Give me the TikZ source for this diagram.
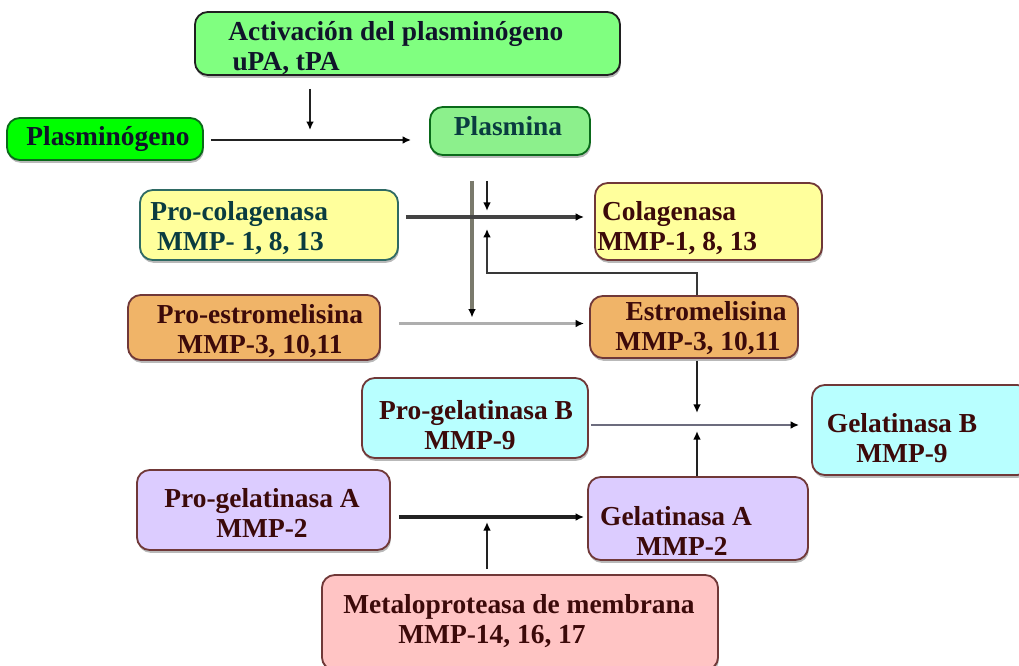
\documentclass[tikz,border=0pt]{standalone}
\usepackage{fontspec}
\setmainfont{Liberation Serif}
\usetikzlibrary{arrows.meta,calc,shadows}
\definecolor{cAct}{HTML}{80FF80}
\definecolor{cPlg}{HTML}{00FF00}
\definecolor{cPla}{HTML}{8CF08C}
\definecolor{cYel}{HTML}{FFFF9C}
\definecolor{cOra}{HTML}{F0B468}
\definecolor{cCya}{HTML}{B8FFFF}
\definecolor{cLav}{HTML}{DCCCFF}
\definecolor{cPin}{HTML}{FFC4C4}
\definecolor{bDark}{HTML}{202020}
\definecolor{bGreen}{HTML}{0A6A1A}
\definecolor{bTeal}{HTML}{2F6A64}
\definecolor{bBrown}{HTML}{703838}
\definecolor{tNavy}{HTML}{10142A}
\definecolor{tTeal}{HTML}{0A3C40}
\definecolor{tBrown}{HTML}{3C0A0A}
\definecolor{lnDark}{HTML}{222222}
\definecolor{lnMid}{HTML}{7A7A6C}
\definecolor{lnLight}{HTML}{AEAEAE}
\definecolor{lnBlue}{HTML}{6C6C7E}
\tikzset{
  box/.style={draw, rounded corners=0.32cm, line width=1.3pt, inner sep=0pt,
    drop shadow={shadow xshift=0.6pt, shadow yshift=-2pt, opacity=0.55, fill=gray}},
  txt/.style={inner sep=0pt, align=center, font=\fontsize{19.5}{21.5}\selectfont\bfseries},
  arr/.style={-{Latex[length=6pt,width=5.5pt,color=black]}, line width=1.4pt, draw=lnDark},
}
\begin{document}
\begin{tikzpicture}[x=0.025cm,y=-0.025cm]
\useasboundingbox[fill=white] (0,0) rectangle (1019,665);

% boxes
\node[box, fill=cAct, draw=bDark, minimum width=10.625cm, minimum height=1.575cm] (act) at (407.5,43.5) {};
\node[box, fill=cPlg, draw=bGreen, minimum width=4.9cm, minimum height=1.05cm] (plg) at (105,139) {};
\node[box, fill=cPla, draw=bGreen, minimum width=4.0cm, minimum height=1.2cm] (pla) at (510,131) {};
\node[box, fill=cYel, draw=bTeal, minimum width=6.45cm, minimum height=1.75cm] (pcol) at (269,225) {};
\node[box, fill=cYel, draw=bBrown, minimum width=5.675cm, minimum height=1.925cm] (col) at (708.5,221.5) {};
\node[box, fill=cOra, draw=bBrown, minimum width=6.3cm, minimum height=1.625cm] (pest) at (254,327.5) {};
\node[box, fill=cOra, draw=bBrown, minimum width=5.2cm, minimum height=1.55cm] (est) at (694,327) {};
\node[box, fill=cCya, draw=bBrown, minimum width=5.65cm, minimum height=2.0cm] (pgb) at (475,418) {};
\node[box, fill=cCya, draw=bBrown, minimum width=5.45cm, minimum height=2.25cm] (gb) at (921,430) {};
\node[box, fill=cLav, draw=bBrown, minimum width=6.325cm, minimum height=2.0cm] (pga) at (263.5,510) {};
\node[box, fill=cLav, draw=bBrown, minimum width=5.5cm, minimum height=2.075cm] (ga) at (698,518.5) {};
\node[box, fill=cPin, draw=bBrown, minimum width=9.9cm, minimum height=2.375cm] (met) at (520,622.5) {};

% texts
\node[txt, text=tNavy, anchor=west, align=left] (act-t) at (228,48)
      {Activación del plasminógeno\\\hspace*{3pt}uPA, tPA};
\node[txt, text=tNavy] (plg-t) at (108,139) {Plasminógeno};
\node[txt, text=tTeal] (pla-t) at (508,126) {Plasmina};
\node[txt, text=tTeal, anchor=west, align=left] (pcol-t) at (150,228)
      {Pro-colagenasa\\\hspace*{0.17cm}MMP- 1, 8, 13};
\node[txt, text=tBrown, anchor=west, align=left] (col-t) at (597,228)
      {\hspace*{0.12cm}Colagenasa\\MMP-1, 8, 13};
\node[txt, text=tBrown] (pest-t) at (260,331) {Pro-estromelisina\\MMP-3, 10,11};
\node[txt, text=tBrown] (est-t) at (702,328) {\kern0.2cm Estromelisina\\MMP-3, 10,11\kern0.2cm};
\node[txt, text=tBrown] (pgb-t) at (476,425) {Pro-gelatinasa B\\MMP-9\kern0.3cm};
\node[txt, text=tBrown] (gb-t) at (902,438) {Gelatinasa B\\MMP-9};
\node[txt, text=tBrown] (pga-t) at (262,513) {Pro-gelatinasa A\\MMP-2};
\node[txt, text=tBrown] (ga-t) at (676,531) {Gelatinasa A\\\kern0.3cm MMP-2};
\node[txt, text=tBrown] (met-t) at (519,621) {Metaloproteasa de membrana\\MMP-14, 16, 17\kern1.35cm};

% connectors
\coordinate (j1) at (310,140);
\draw[arr] ($(act.south -| j1)+(0,13)$) -- ($(j1)+(0,-10)$);
\draw[arr] ($(plg.east)+(7,1)$) -- ($(plg.east -| pla.west)+(-18,1)$);

\draw[arr, line width=3pt, draw=lnMid] ($(pla.south)+(-38,25)$) -- ($(pla.south |- pest.east)+(-38,-10)$);
\draw[arr, line width=3pt, draw=lnDark!85] ($(pcol.east)+(7,-8)$) -- ($(pcol.east -| col.west)+(-10,-8)$);
\draw[arr, line width=1.2pt] ($(pla.south)+(-23,25)$) -- ($(pla.south)+(-23,55)$);
\draw[arr, line width=1.6pt, draw=lnDark!90] ($(est.north)+(3,0)$) |- ($(pla.south)+(-23,117)$) -- ($(pla.south)+(-23,73)$);

\draw[arr, line width=2pt, draw=lnLight] ($(pest.east)+(18,-4)$) -- ($(pest.east -| est.west)+(-5,-4)$);
\draw[arr] ($(est.south)+(3,2)$) -- ($(est.south)+(3,54)$);

\draw[arr, line width=2pt, draw=lnBlue] ($(pgb.east)+(2,7)$) -- ($(pgb.east -| gb.west)+(-12,7)$);
\draw[arr] ($(ga.north)+(-1,0)$) -- ($(ga.north)+(-1,-45)$);

\draw[arr, line width=3pt] ($(pga.east)+(8,7)$) -- ($(pga.east -| ga.west)+(-3,7)$);
\draw[arr] ($(met.north)+(-33,-5)$) -- ($(met.north)+(-33,-52)$);
\end{tikzpicture}
\end{document}
